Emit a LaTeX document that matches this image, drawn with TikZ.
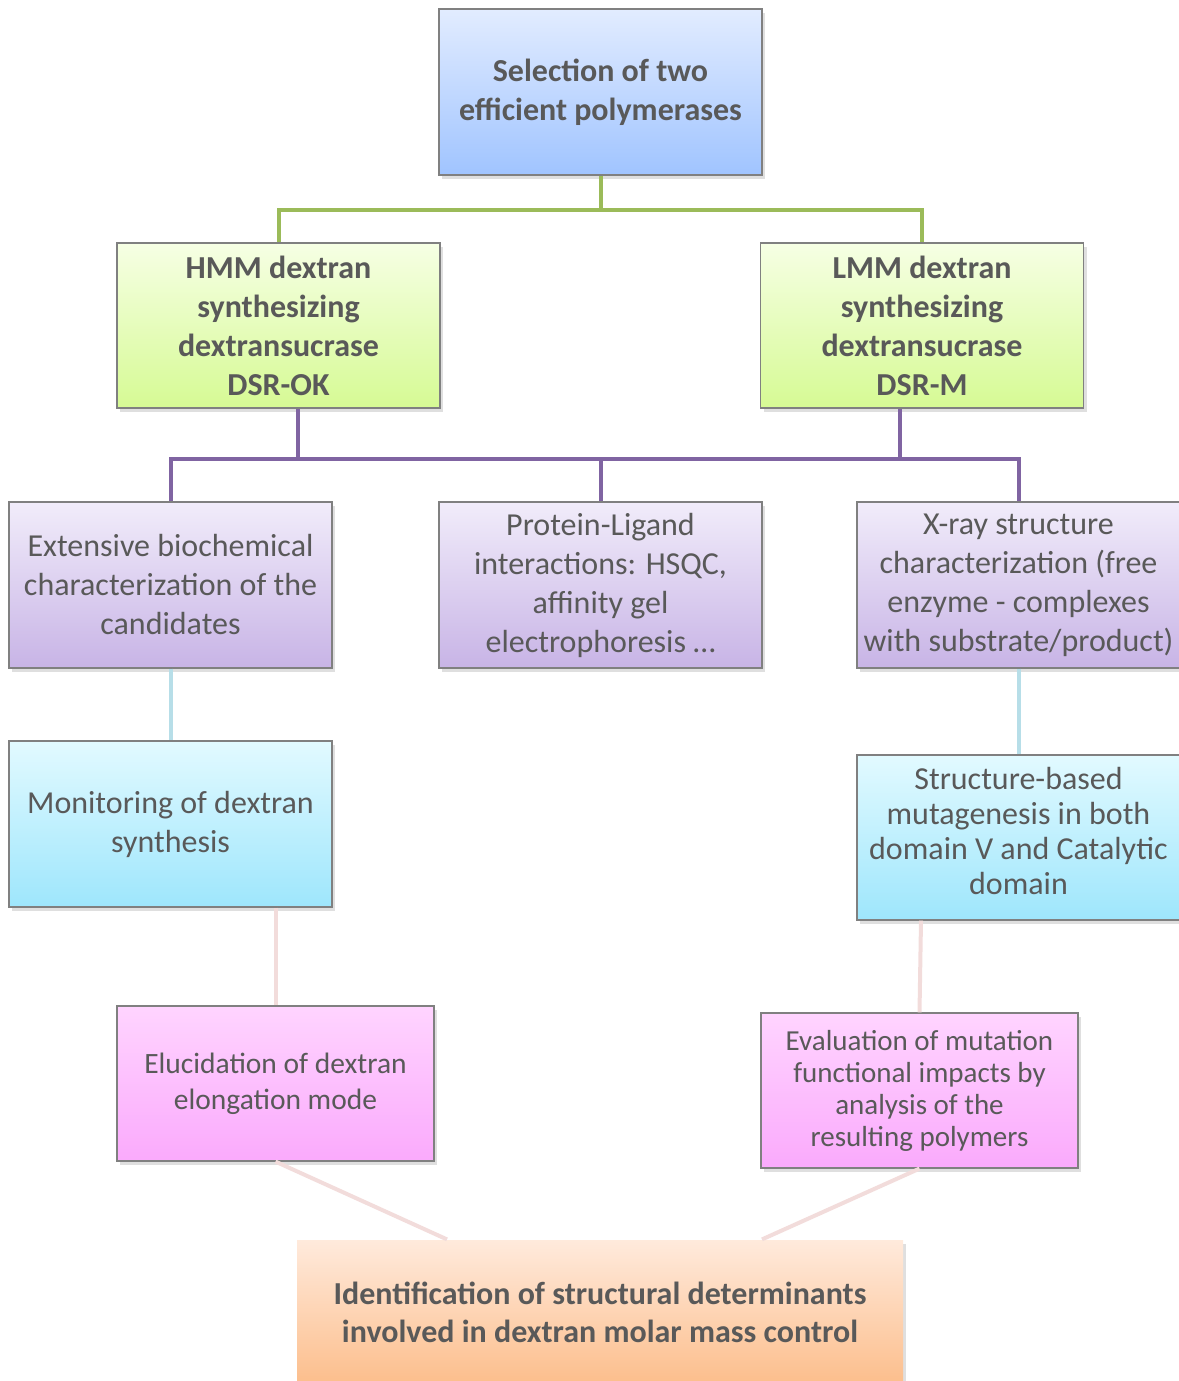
\documentclass[tikz,border=0pt]{standalone}
\usepackage{fontspec}
\setmainfont{Carlito}
\definecolor{txtgray}{RGB}{89,89,89}
\definecolor{boxgray}{RGB}{128,128,128}
\definecolor{selblue1}{RGB}{226,236,255}
\definecolor{selblue2}{RGB}{160,196,255}
\definecolor{dsrgreen1}{RGB}{246,255,228}
\definecolor{dsrgreen2}{RGB}{214,250,148}
\definecolor{methviolet1}{RGB}{241,236,250}
\definecolor{methviolet2}{RGB}{200,180,230}
\definecolor{stepcyan1}{RGB}{226,250,255}
\definecolor{stepcyan2}{RGB}{158,230,252}
\definecolor{respink1}{RGB}{255,212,255}
\definecolor{respink2}{RGB}{250,170,252}
\definecolor{goalorange1}{RGB}{255,234,220}
\definecolor{goalorange2}{RGB}{252,190,140}
\definecolor{linkgreen}{RGB}{155,187,89}
\definecolor{linkviolet}{RGB}{128,100,162}
\definecolor{linkcyan}{RGB}{183,222,232}
\definecolor{linkrose}{RGB}{242,220,219}
\usetikzlibrary{calc,shadows}

\begin{document}
\begin{tikzpicture}[x=1pt,y=-1pt,
  cell/.style={draw=boxgray,line width=1.2pt,align=center,inner sep=0pt,
    text=txtgray,minimum width=323pt,minimum height=166pt,shading=axis,
    drop shadow={opacity=0.25,shadow xshift=3pt,shadow yshift=-4pt}},
  bigtxt/.style={font=\fontsize{32}{39}\selectfont\bfseries},
  midtxt/.style={font=\fontsize{32}{39}\selectfont},
  link/.style={line width=4pt}]
  \useasboundingbox (0,0) rectangle (1178,1381);
  % nodes
  \node[cell,bigtxt,top color=selblue1,bottom color=selblue2] (sel) at (600.5,92) {Selection of two\\efficient polymerases};
  \node[cell,bigtxt,top color=dsrgreen1,bottom color=dsrgreen2,minimum height=165pt] (hmm) at (278.5,325.5) {HMM dextran\\synthesizing\\dextransucrase\\DSR-OK};
  \node[cell,bigtxt,top color=dsrgreen1,bottom color=dsrgreen2,minimum height=165pt] (lmm) at (922,325.5) {LMM dextran\\synthesizing\\dextransucrase\\DSR-M};
  \node[cell,midtxt,top color=methviolet1,bottom color=methviolet2] (ext) at (170.5,585) {Extensive biochemical\\characterization of the\\candidates};
  \node[cell,midtxt,top color=methviolet1,bottom color=methviolet2] (prot) at (600.5,585) {Protein-Ligand\\interactions: HSQC,\\affinity gel\\electrophoresis …};
  \node[cell,midtxt,top color=methviolet1,bottom color=methviolet2] (xray) at (1018.5,585) {X-ray structure\\characterization (free\\enzyme - complexes\\with substrate/product)};
  \node[cell,midtxt,top color=stepcyan1,bottom color=stepcyan2] (mon) at (170.5,824) {Monitoring of dextran\\synthesis};
  \node[cell,font=\fontsize{32}{35}\selectfont,top color=stepcyan1,bottom color=stepcyan2,minimum height=165pt] (strc) at (1018.5,837.5) {Structure-based\\mutagenesis in both\\domain V and Catalytic\\domain\\[-21pt]};
  \node[cell,font=\fontsize{29.5}{36}\selectfont,top color=respink1,bottom color=respink2,minimum width=317pt,minimum height=155pt] (eluc) at (275.5,1083.5) {Elucidation of dextran\\elongation mode};
  \node[cell,font=\fontsize{29}{32}\selectfont,top color=respink1,bottom color=respink2,minimum width=317pt,minimum height=155pt] (eval) at (919.5,1090.5) {Evaluation of mutation\\functional impacts by\\analysis of the\\resulting polymers};
  \node[cell,draw=none,font=\fontsize{32}{38}\selectfont\bfseries,top color=goalorange1,bottom color=goalorange2,minimum width=606pt,minimum height=144pt] (ident) at (600,1312) {Identification of structural determinants\\involved in dextran molar mass control};
  % connectors
  \draw[link,linkgreen] (sel.south) -- ++(0,36);
  \draw[link,linkgreen] (hmm.north) -- ++(0,-32) -| (lmm.north);
  \draw[link,linkviolet] (ext.north) -- ++(0,-42) -| (xray.north);
  \draw[link,linkviolet] (prot.north) -- ++(0,-42);
  \draw[link,linkviolet] ([xshift=19pt]hmm.south) -- ++(0,52);
  \draw[link,linkviolet] ([xshift=-22pt]lmm.south) -- ++(0,52);
  \draw[link,linkcyan] (ext.south) -- (mon.north);
  \draw[link,linkcyan] (xray.south) -- (strc.north);
  \draw[link,linkrose] (mon.south -| eluc.north) -- (eluc.north);
  \draw[link,linkrose] ([xshift=1.5pt]strc.south -| eval.north) -- (eval.north);
  \draw[link,linkrose] (eluc.south) -- ([xshift=-153pt]ident.north);
  \draw[link,linkrose] (eval.south) -- ([xshift=162pt]ident.north);
\end{tikzpicture}
\end{document}
